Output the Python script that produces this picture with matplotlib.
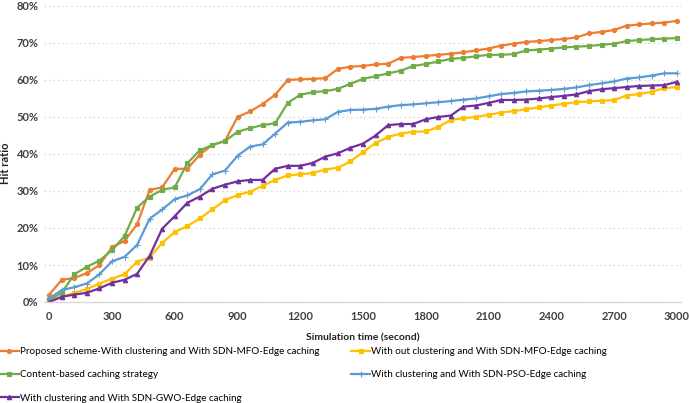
import numpy as np
import matplotlib
matplotlib.use('Agg')
import matplotlib.pyplot as plt
from matplotlib.ticker import FuncFormatter

#%% data (hit ratio in %, every 60 s)
t = list(range(0, 3001, 60))

proposed = [2.0, 6.0, 6.5, 7.8, 10.0, 14.8, 16.5, 21.0, 30.3, 31.0,
            36.0, 36.0, 39.8, 42.5, 43.5, 50.0, 51.5, 53.5, 56.0, 60.0,
            60.2, 60.3, 60.5, 63.0, 63.6, 63.8, 64.2, 64.4, 66.0, 66.2,
            66.5, 66.8, 67.1, 67.5, 68.0, 68.5, 69.3, 69.8, 70.3, 70.5,
            70.8, 71.1, 71.5, 72.6, 73.0, 73.5, 74.7, 75.0, 75.3, 75.5, 76.0]

without_clust = [0.5, 1.3, 2.5, 3.5, 5.0, 6.3, 7.5, 10.9, 12.0, 16.0,
                 18.9, 20.5, 22.6, 25.0, 27.5, 28.9, 29.8, 31.4, 33.0, 34.2,
                 34.5, 34.9, 35.8, 36.3, 38.0, 40.5, 43.0, 44.6, 45.5, 46.0,
                 46.1, 47.3, 49.2, 49.7, 50.0, 50.6, 51.2, 51.6, 52.1, 52.6,
                 53.1, 53.6, 54.0, 54.2, 54.4, 54.6, 55.8, 56.2, 56.8, 57.8, 58.1]

content_based = [0.5, 2.5, 7.5, 9.5, 11.2, 14.0, 17.8, 25.5, 28.5, 30.3,
                 31.0, 37.5, 41.0, 42.4, 43.5, 46.0, 47.0, 47.8, 48.3, 53.8,
                 56.0, 56.7, 57.0, 57.6, 59.0, 60.3, 61.0, 61.8, 62.5, 63.8,
                 64.3, 65.0, 65.7, 66.0, 66.4, 66.8, 66.8, 67.0, 68.0, 68.2,
                 68.5, 68.8, 69.0, 69.2, 69.5, 69.8, 70.5, 70.8, 71.0, 71.2, 71.3]

pso = [1.0, 3.2, 4.0, 5.0, 7.5, 11.0, 12.2, 15.4, 22.5, 25.0,
       27.8, 28.8, 30.5, 34.5, 35.5, 39.5, 42.0, 42.6, 45.5, 48.5,
       48.7, 49.1, 49.4, 51.4, 51.9, 52.0, 52.2, 52.8, 53.2, 53.4,
       53.7, 54.0, 54.3, 54.7, 55.0, 55.6, 56.2, 56.5, 56.9, 57.1,
       57.3, 57.6, 58.0, 58.6, 59.1, 59.6, 60.4, 60.7, 61.2, 61.8, 61.8]

gwo = [0.0, 1.4, 2.0, 2.5, 3.7, 5.2, 6.0, 7.6, 12.5, 19.8,
       23.2, 26.8, 28.5, 30.6, 31.7, 32.6, 33.0, 33.0, 36.0, 36.8,
       36.8, 37.6, 39.3, 40.2, 41.7, 42.8, 45.0, 47.8, 48.1, 48.1,
       49.4, 50.0, 50.4, 52.8, 53.1, 53.8, 54.6, 54.6, 54.7, 55.0,
       55.4, 55.7, 56.1, 57.0, 57.5, 57.8, 58.1, 58.4, 58.5, 58.6, 59.5]

labels = ['Proposed scheme-With clustering and With SDN-MFO-Edge caching',
          'With out clustering and With SDN-MFO-Edge caching',
          'Content-based caching strategy',
          'With clustering and With SDN-PSO-Edge caching',
          'With clustering and With SDN-GWO-Edge caching']

xticks = list(range(0, 3001, 300))
yticks = list(range(0, 81, 10))

#%% plot
plt.rcParams['font.family'] = ['Lato', 'DejaVu Sans']

fig = plt.figure(figsize=(6.9, 4.03), dpi=100)
ax = fig.add_axes([44/690, 1-302/403, 637/690, 296/403])

series = [(proposed, '#ED7D31', 'o', 3.0),
          (without_clust, '#FFC000', 's', 3.0),
          (content_based, '#70AD47', 's', 3.2),
          (pso, '#5B9BD5', '+', 4.0),
          (gwo, '#7030A0', '^', 3.2)]

lines = []
for (vals, col, mk, ms), lab in zip(series, labels):
    ln, = ax.plot(t, vals, color=col, lw=1.6, marker=mk, ms=ms,
                  mew=0.8, label=lab)
    lines.append(ln)

ax.set_xlim(-25, 3020)
ax.set_ylim(0, 80)
ax.set_xticks(xticks)
ax.set_yticks(yticks)
ax.yaxis.set_major_formatter(FuncFormatter(lambda v, p: '%d%%' % v))
ax.tick_params(length=0, labelsize=8, labelcolor='#404040', pad=4)
ax.tick_params(axis='x', pad=6.5)
for lb in ax.get_xticklabels() + ax.get_yticklabels():
    lb.set_fontweight('bold')

ax.grid(axis='y', color='#d9d9d9', ls=(0, (1.5, 2.5)), lw=0.8)
ax.set_axisbelow(True)
for s in ['top', 'right', 'left']:
    ax.spines[s].set_visible(False)
ax.spines['bottom'].set_color('#d9d9d9')
ax.spines['bottom'].set_linewidth(1.0)

ax.set_xlabel('Simulation time (second)', fontsize=7.5, fontweight='bold',
              color='#222222', labelpad=8)
ax.set_ylabel('Hit ratio', fontsize=8, fontweight='bold', color='#222222')
ax.yaxis.set_label_coords(-33/637, 0.47)

# legend: left column orange/green/purple, right column yellow/blue
order = [0, 2, 4, 1, 3]
fig.legend([lines[i] for i in order], [labels[i] for i in order],
           loc='upper left', bbox_to_anchor=(0.0, 0.139), ncol=2,
           frameon=False, fontsize=7.1, handlelength=1.9, handletextpad=0.15,
           columnspacing=3.2, labelspacing=1.45, borderaxespad=0,
           borderpad=0)

fig.savefig('out.png', dpi=100)
